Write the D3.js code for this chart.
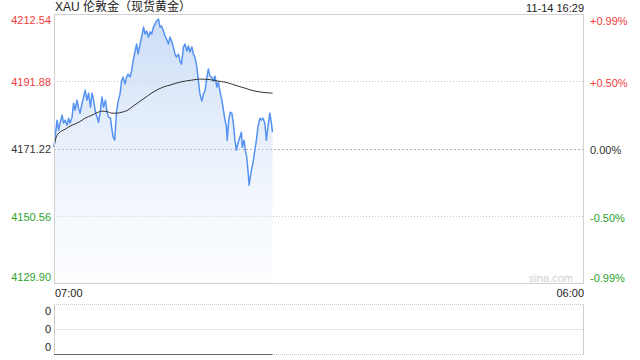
<!DOCTYPE html>
<html><head><meta charset="utf-8">
<script src="https://cdn.jsdelivr.net/npm/d3@7"></script>
<style>
html,body{margin:0;padding:0;background:#fff;}
svg{display:block;font-family:"Liberation Sans",Arial,"Noto Sans CJK SC",sans-serif;}
</style></head>
<body>
<svg id="c" width="640" height="360"></svg>
<script>
// ---- data ----
const title = "XAU 伦敦金（现货黄金）";
const stamp = "11-14 16:29";
const prevClose = 4171.22;
const priceTicks = [4212.54, 4191.88, 4171.22, 4150.56, 4129.90];
const pctTicks = ["+0.99%", "+0.50%", "0.00%", "-0.50%", "-0.99%"];
const timeLabels = ["07:00", "06:00"];
const sessionMinutes = 1380; // 07:00 -> 06:00
// minutes since 07:00
const priceMinutes = [0,5,8,12,16,21,25,29,34,38,42,47,51,55,60,64,68,73,77,81,86,90,95,99,103,108,112,116,121,125,129,134,138,142,147,150,154,158,160,163,167,172,176,180,185,189,193,198,202,206,211,215,219,224,228,233,237,241,246,250,254,259,263,267,272,276,280,285,289,293,298,302,306,311,315,319,324,328,332,337,341,346,350,354,359,363,367,372,376,380,385,389,393,398,402,406,411,415,419,424,428,432,437,440,444,449,451,455,459,463,467,471,475,479,484,488,490,495,498,502,505,508,511,514,518,523,527,531,536,540,544,549,553,557,562,566,569];
const priceValues = [4171.86,4176.98,4180.05,4176.98,4179.13,4181.58,4179.13,4180.05,4178.51,4180.66,4179.13,4180.97,4185.26,4183.11,4186.18,4183.73,4182.19,4185.26,4187.10,4189.24,4186.18,4188.32,4184.03,4188.32,4186.18,4182.50,4180.97,4179.43,4183.11,4187.10,4184.03,4186.18,4182.50,4180.97,4180.66,4177.90,4174.84,4173.92,4177.60,4182.81,4185.87,4188.02,4192.00,4193.23,4191.08,4193.23,4194.15,4193.23,4195.07,4198.13,4201.20,4203.34,4200.28,4203.34,4205.49,4208.55,4206.41,4207.33,4205.49,4207.02,4206.41,4208.55,4209.47,4210.39,4211.01,4208.55,4208.86,4207.33,4205.80,4204.88,4203.34,4205.49,4204.26,4202.42,4200.28,4199.36,4200.28,4198.13,4197.21,4202.42,4203.34,4201.20,4202.73,4200.89,4202.42,4200.28,4199.36,4196.29,4192.00,4188.02,4185.87,4188.02,4188.94,4193.23,4195.68,4193.53,4193.23,4192.00,4193.53,4190.16,4191.70,4188.94,4186.18,4184.03,4180.97,4177.90,4173.92,4180.05,4182.50,4182.19,4179.13,4173.92,4170.85,4173.00,4174.84,4176.37,4171.77,4173.92,4170.85,4168.71,4164.72,4160.12,4162.58,4164.72,4166.87,4170.85,4173.92,4177.90,4180.66,4180.05,4180.66,4179.13,4173.92,4177.90,4182.19,4179.13,4176.37];
const avgMinutes = [0,5,10,29,47,65,81,99,112,125,138,151,164,177,190,206,232,258,284,302,328,359,380,406,427,445,463,479,497,513,539,569];
const avgValues = [4171.86,4174.53,4175.76,4177.29,4178.51,4179.43,4180.66,4181.58,4182.35,4182.81,4182.65,4182.19,4182.19,4182.50,4182.96,4184.34,4186.48,4188.63,4190.16,4190.78,4191.70,4192.31,4192.62,4192.46,4192.00,4191.70,4191.08,4190.47,4189.86,4189.24,4188.63,4188.32];
const volumeTicks = ["0", "0", "0"];

// ---- drawing ----
const svg = d3.select("#c");
const L = 54, R = 584, T = 14, B = 284;
const VT = 304.5, VB = 354.5;
const x = d3.scaleLinear().domain([0, sessionMinutes]).range([L, R]);
const y = d3.scaleLinear().domain([priceTicks[4], priceTicks[0]]).range([B, T]);

const red = "#f23b3b", green = "#2ba52b", dark = "#333";
const tickColor = v => v > prevClose + 0.001 ? red : (v < prevClose - 0.001 ? green : dark);

// gradient
const defs = svg.append("defs");
const g = defs.append("linearGradient").attr("id","af").attr("gradientUnits","userSpaceOnUse")
  .attr("x1",0).attr("x2",0).attr("y1",T).attr("y2",B);
g.append("stop").attr("offset","0").attr("stop-color","#b7cff3").attr("stop-opacity",0.75);
g.append("stop").attr("offset","1").attr("stop-color","#e8f0fc").attr("stop-opacity",0.15);

// gridlines
[1,3].forEach(i=>{
  svg.append("line").attr("x1",L).attr("x2",R).attr("y1",Math.round(y(priceTicks[i]))+0.5).attr("y2",Math.round(y(priceTicks[i]))+0.5)
    .attr("stroke","#c8c8c8").attr("stroke-dasharray","1,2");
});
svg.append("line").attr("x1",L).attr("x2",R).attr("y1",Math.round(y(priceTicks[2]))+0.5).attr("y2",Math.round(y(priceTicks[2]))+0.5)
  .attr("stroke","#b0b0b0").attr("stroke-dasharray","2,2");

// data
const pts = priceMinutes.map((m,i)=>[m, priceValues[i]]);
const avg = avgMinutes.map((m,i)=>[m, avgValues[i]]);

svg.append("path").datum(pts)
  .attr("d", d3.area().x(d=>x(d[0])).y0(B).y1(d=>y(d[1])))
  .attr("fill","url(#af)");

svg.append("path").datum(pts)
  .attr("d", d3.line().x(d=>x(d[0])).y(d=>y(d[1])))
  .attr("fill","none").attr("stroke","#5592f2").attr("stroke-width",1.5).attr("stroke-linejoin","round");

svg.append("path").datum(avg)
  .attr("d", d3.line().curve(d3.curveMonotoneX).x(d=>x(d[0])).y(d=>y(d[1])))
  .attr("fill","none").attr("stroke","#333").attr("stroke-width",1);

// borders
svg.append("path").attr("d",`M${L+0.5},${B}V${T+0.5}H${R-0.5}V${B}`).attr("fill","none").attr("stroke","#d0d0d0");
svg.append("line").attr("x1",L).attr("x2",R).attr("y1",B-0.5).attr("y2",B-0.5).attr("stroke","#d0d0d0");

// watermark
svg.append("text").attr("x",573).attr("y",282).attr("text-anchor","end").attr("font-size",11).attr("fill","#cfcfcf").text("sina.com");

// left price labels
const labelY = [20, y(priceTicks[1])+0.5, y(priceTicks[2])+0.5, y(priceTicks[3])+0.5, 277];
priceTicks.forEach((v,i)=>{
  svg.append("text").attr("x",51).attr("y",labelY[i]).attr("dy","0.35em").attr("text-anchor","end")
    .attr("font-size",11).attr("fill",tickColor(v)).text(d3.format(".2f")(v));
  svg.append("text").attr("x",590).attr("y",labelY[i]+1).attr("dy","0.35em").attr("text-anchor","start")
    .attr("font-size",11).attr("fill",tickColor(v)).text(pctTicks[i]);
});

// title & stamp
svg.append("text").attr("x",55).attr("y",11).attr("font-size",12).attr("fill","#222").text(title);
svg.append("text").attr("x",584).attr("y",12).attr("text-anchor","end").attr("font-size",11).attr("fill","#222").text(stamp);

// time labels
svg.append("text").attr("x",x(0)+1).attr("y",297).attr("font-size",11).attr("fill","#222").text(timeLabels[0]);
svg.append("text").attr("x",x(sessionMinutes)).attr("y",297).attr("text-anchor","end").attr("font-size",11).attr("fill","#222").text(timeLabels[1]);

// volume panel
const vy = d3.scaleLinear().domain([0,2]).range([VB, VT]);
[0,1,2].forEach(i=>{
  svg.append("line").attr("x1",L).attr("x2",R).attr("y1",vy(i)).attr("y2",vy(i))
    .attr("stroke","#c8c8c8").attr("stroke-dasharray","1,1");
});
svg.append("line").attr("x1",L+0.5).attr("x2",L+0.5).attr("y1",VT).attr("y2",VB).attr("stroke","#cfcfcf");
svg.append("line").attr("x1",R-0.5).attr("x2",R-0.5).attr("y1",VT).attr("y2",VB).attr("stroke","#cfcfcf");
svg.append("line").attr("x1",x(0)).attr("x2",x(priceMinutes[priceMinutes.length-1])).attr("y1",VB).attr("y2",VB)
  .attr("stroke","#666").attr("stroke-width",1);
const vLabelY = [311, 329, 347];
volumeTicks.forEach((t,i)=>{
  svg.append("text").attr("x",51).attr("y",vLabelY[i]).attr("dy","0.35em").attr("text-anchor","end")
    .attr("font-size",11).attr("fill","#222").text(t);
});
</script>
</body></html>
